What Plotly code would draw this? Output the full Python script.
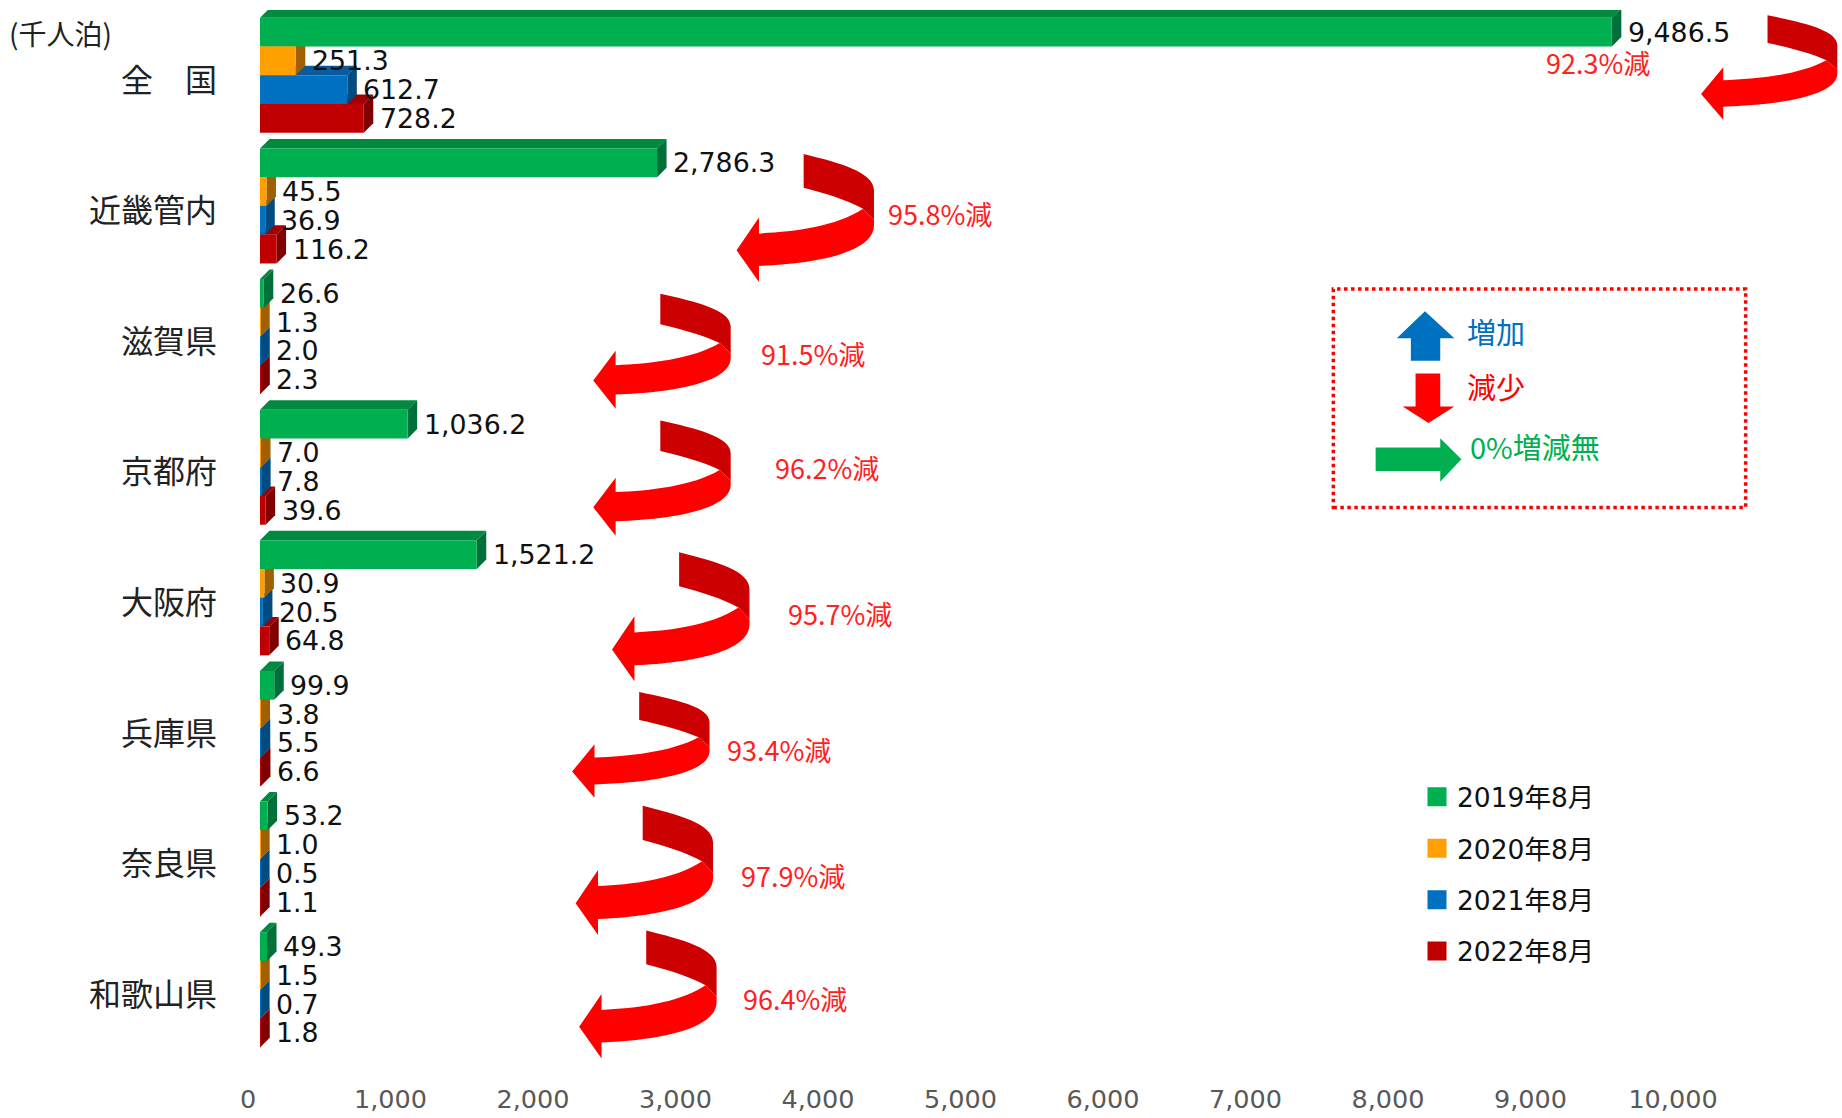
import plotly.graph_objects as go

categories = ["全　国", "近畿管内", "滋賀県", "京都府", "大阪府", "兵庫県", "奈良県", "和歌山県"]
series_names = ["2019年8月", "2020年8月", "2021年8月", "2022年8月"]
v2019 = [9486.5, 2786.3, 26.6, 1036.2, 1521.2, 99.9, 53.2, 49.3]
v2020 = [251.3, 45.5, 1.3, 7.0, 30.9, 3.8, 1.0, 1.5]
v2021 = [612.7, 36.9, 2.0, 7.8, 20.5, 5.5, 0.5, 0.7]
v2022 = [728.2, 116.2, 2.3, 39.6, 64.8, 6.6, 1.1, 1.8]
series_values = [v2019, v2020, v2021, v2022]
front_colors = ["#00B050", "#FFA000", "#0070C0", "#C00000"]
top_colors = ["#008A40", "#C87E00", "#0A5AA0", "#A00000"]
side_colors = ["#00703A", "#A06000", "#004B80", "#800000"]
x_ticks = list(range(0, 10001, 1000))
change_labels = ["92.3%減", "95.8%減", "91.5%減", "96.2%減", "95.7%減", "93.4%減", "97.9%減", "96.4%減"]

S = 1842 / 1568
W, H = 1842, 1118
ML, MR, MT, MB = 260, 157, 10, 63
PW, PH = W - ML - MR, H - MT - MB
DEPTH = 9.5
BARGAP = 0.119
BAR_W = (1 - BARGAP) / 4
FONT = "DejaVu Sans, Noto Sans CJK JP"
CJK = "Noto Sans CJK JP, DejaVu Sans"


def px(x):
    return (x * S - ML) / PW


def py(y):
    return 1 - (y * S - MT) / PH


def path(cmds):
    out = []
    for c in cmds:
        if isinstance(c, str):
            out.append(c)
        else:
            out.append(f"{px(c[0]):.5f},{py(c[1]):.5f}")
    return " ".join(out)


fig = go.Figure()
for name, vals, col in zip(series_names, series_values, front_colors):
    fig.add_trace(go.Bar(
        name=name, y=list(range(len(categories))), x=vals, orientation="h",
        marker=dict(color=col, line=dict(width=0)), showlegend=False,
    ))
for name, col in zip(series_names, front_colors):
    fig.add_trace(go.Scatter(
        name=name, x=[None], y=[None], mode="markers", legendgroup=name,
        marker=dict(symbol="square", size=16, color=col, line=dict(color=col, width=3)),
    ))

shapes = []
annotations = []
bar_px = BAR_W * PH / len(categories)
for k in [3, 2, 1, 0]:
    for i, v in enumerate(series_values[k]):
        yc = i + (k - 1.5) * BAR_W
        d = DEPTH
        b = bar_px
        shapes.append(dict(
            type="path", layer="below", xref="x", yref="y", xsizemode="pixel", ysizemode="pixel",
            xanchor=0, yanchor=yc, line_width=0, fillcolor=top_colors[k],
            path=f"M 0 {b/2} L {d} {b/2+d} L {v*PW/10000+d} {b/2+d} L {v*PW/10000} {b/2} Z",
        ))
        shapes.append(dict(
            type="path", layer="below", xref="x", yref="y", xsizemode="pixel", ysizemode="pixel",
            xanchor=v, yanchor=yc, line_width=0, fillcolor=side_colors[k],
            path=f"M 0 {b/2} L {d} {b/2+d} L {d} {-b/2+d} L 0 {-b/2} Z",
        ))
        annotations.append(dict(
            x=v, y=yc, xref="x", yref="y", xanchor="left", yanchor="middle", xshift=14,
            text=f"{v:,.1f}", showarrow=False, font=dict(family=FONT, size=26.8, color="#111111"),
        ))

# curved arrows: left(tip), top, width, height in reference pixels
arrows = [
    (1448, 13, 116, 89), (627, 131, 117, 109), (505, 250, 117, 98), (505, 358, 117, 98),
    (521, 470, 117, 110), (487, 589, 117, 90), (490, 686, 117, 110), (493, 792, 117, 109),
]
for (l, t, w, h) in arrows:
    f = lambda a, b: (l + a * w, t + b * h)
    shapes.append(dict(
        type="path", xref="paper", yref="paper", line_width=0, fillcolor="#CC0000",
        path=path(["M", f(.488, 0), "C", f(.75, .07), f(1, .14), f(1, .286), "L", f(1, .519), "L", f(.92, .429),
                   "C", f(.8, .36), f(.65, .31), f(.488, .265), "Z"]),
    ))
    shapes.append(dict(
        type="path", xref="paper", yref="paper", line_width=0, fillcolor="#FF0000",
        path=path(["M", f(.92, .429), "C", f(.72, .571), f(.405, .61), f(.163, .621), "L", f(.163, .496),
                   "L", f(0, .753), "L", f(.163, 1), "L", f(.163, .875),
                   "C", f(.6, .857), f(1, .766), f(1, .558), "L", f(1, .519), "Z"]),
    ))

change_pos = [(1360, 53), (800, 182), (692, 301), (704, 398), (715, 522), (663, 638), (675, 745), (677, 850)]
for txt, (x, y) in zip(change_labels, change_pos):
    annotations.append(dict(
        x=px(x), y=py(y), xref="paper", yref="paper", xanchor="center", yanchor="middle",
        text=txt, showarrow=False, font=dict(family=CJK, size=27, color="#FF2020"),
    ))

# key box
shapes.append(dict(type="rect", xref="paper", yref="paper", x0=px(1135), x1=px(1486), y0=py(432), y1=py(246),
                   line=dict(color="#FF0000", width=3.5, dash="dot")))
shapes.append(dict(type="path", xref="paper", yref="paper", line_width=0, fillcolor="#0070C0",
                   path=path(["M", (1213, 265), "L", (1238, 288), "L", (1226, 288), "L", (1226, 307), "L", (1201, 307),
                              "L", (1201, 288), "L", (1189, 288), "Z"])))
shapes.append(dict(type="path", xref="paper", yref="paper", line_width=0, fillcolor="#FF0000",
                   path=path(["M", (1205, 318), "L", (1226, 318), "L", (1226, 346), "L", (1238, 346), "L", (1216, 360),
                              "L", (1194, 346), "L", (1205, 346), "Z"])))
shapes.append(dict(type="path", xref="paper", yref="paper", line_width=0, fillcolor="#00B050",
                   path=path(["M", (1171, 381), "L", (1226, 381), "L", (1226, 373), "L", (1244, 391), "L", (1226, 410),
                              "L", (1226, 401), "L", (1171, 401), "Z"])))
for txt, x, y, col in [("増加", 1247, 282, "#0070C0"), ("減少", 1247, 329, "#FF0000"), ("0%増減無", 1250, 380, "#00B050")]:
    annotations.append(dict(
        x=px(x), y=py(y), xref="paper", yref="paper", xanchor="left", yanchor="middle",
        text=txt, showarrow=False, font=dict(family=CJK, size=29, color=col),
    ))
annotations.append(dict(
    x=px(6), y=py(28), xref="paper", yref="paper", xanchor="left", yanchor="middle",
    text="(千人泊)", showarrow=False, font=dict(family=CJK, size=28, color="#222222"),
))

fig.update_layout(
    width=W, height=H, margin=dict(l=ML, r=MR, t=MT, b=MB, pad=0, autoexpand=False),
    paper_bgcolor="white", plot_bgcolor="white",
    barmode="group", bargap=BARGAP, bargroupgap=0,
    shapes=shapes, annotations=annotations,
    font=dict(family=FONT),
    xaxis=dict(range=[0, 10000], tickvals=x_ticks, ticktext=[f"{t:,}" for t in x_ticks],
               showgrid=False, zeroline=False, showline=False, ticks="", automargin=False,
               tickfont=dict(family=FONT, size=25.5, color="#595959"), ticklabelshift=-12, ticklabelstandoff=26),
    yaxis=dict(range=[len(categories) - 0.5, -0.5], tickvals=list(range(len(categories))), ticktext=categories,
               showgrid=False, zeroline=False, showline=False, ticks="", automargin=False,
               tickfont=dict(family=CJK, size=32, color="#222222"), ticklabelstandoff=42, ticklabelshift=-5),
    legend=dict(x=(1417 - ML) / PW, y=1 - (773 - MT) / PH, xanchor="left", yanchor="top",
                traceorder="grouped", tracegroupgap=14, bgcolor="rgba(0,0,0,0)",
                font=dict(family=FONT, size=26.5, color="#111111"), itemwidth=30),
)
fig.write_html("out.html", config=dict(displayModeBar=False),
               post_script="document.body.style.margin='0';document.documentElement.style.overflow='hidden';")
